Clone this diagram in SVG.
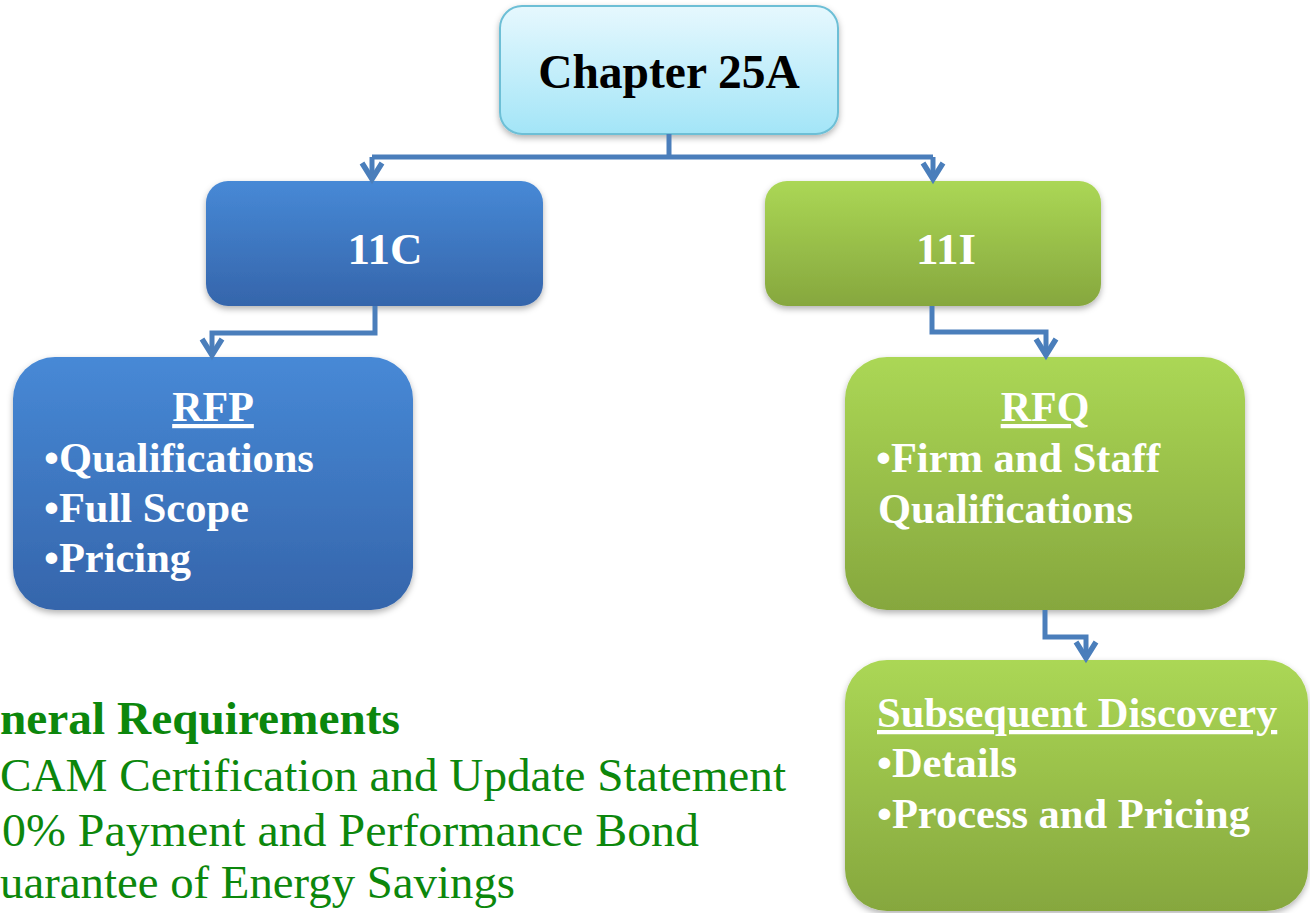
<svg xmlns="http://www.w3.org/2000/svg" width="1310" height="913" viewBox="0 0 1310 913">
<style>
.t{font-family:"Liberation Serif","Times New Roman",serif;font-weight:bold;}
.w{fill:#ffffff;}
.g{fill:#0c870c;font-family:"Liberation Serif","Times New Roman",serif;font-size:47px;}
.conn{fill:none;stroke:#4a7ebb;stroke-width:5;stroke-linejoin:miter;}
</style>
<defs>
<linearGradient id="gc" x1="0" y1="0" x2="0" y2="1"><stop offset="0" stop-color="#e6f8fe"/><stop offset="1" stop-color="#a3e5f7"/></linearGradient>
<linearGradient id="gb" x1="0" y1="0" x2="0" y2="1"><stop offset="0" stop-color="#4789d6"/><stop offset="1" stop-color="#3565ab"/></linearGradient>
<linearGradient id="gg" x1="0" y1="0" x2="0" y2="1"><stop offset="0" stop-color="#abd755"/><stop offset="1" stop-color="#86a73e"/></linearGradient>
<filter id="sh" x="-10%" y="-10%" width="120%" height="130%"><feDropShadow dx="0" dy="3" stdDeviation="3" flood-color="#000" flood-opacity="0.3"/></filter>
<marker id="ah" markerUnits="userSpaceOnUse" markerWidth="30" markerHeight="30" refX="0" refY="0" viewBox="-20 -15 30 30" orient="auto" overflow="visible">
<path d="M-16,-10 L0,0 L-16,10" fill="none" stroke="#4a7ebb" stroke-width="5.5"/>
</marker>
</defs>

<g id="n-chapter">
<rect x="500" y="6" width="338" height="128" rx="22" fill="url(#gc)" stroke="#6dbfd6" stroke-width="2" filter="url(#sh)"/>
<text class="t" x="669" y="88" font-size="47.5" text-anchor="middle" fill="#000">Chapter 25A</text>
</g>

<g id="n-11c">
<rect x="206" y="181" width="337" height="125" rx="22" fill="url(#gb)" filter="url(#sh)"/>
<text class="t w" x="385" y="264" font-size="45" text-anchor="middle">11C</text>
</g>

<g id="n-11i">
<rect x="765" y="181" width="336" height="125" rx="22" fill="url(#gg)" filter="url(#sh)"/>
<text class="t w" x="946" y="264" font-size="45" text-anchor="middle">11I</text>
</g>

<g id="n-rfp">
<rect x="13" y="357" width="400" height="253" rx="42" fill="url(#gb)" filter="url(#sh)"/>
<text class="t w" x="213" y="421" font-size="42" text-anchor="middle" text-decoration="underline">RFP</text>
<text class="t w" x="44" y="472" font-size="42.5">•Qualifications</text>
<text class="t w" x="44" y="522" font-size="42.5">•Full Scope</text>
<text class="t w" x="44" y="572" font-size="42.5">•Pricing</text>
</g>

<g id="n-rfq">
<rect x="845" y="357" width="400" height="253" rx="42" fill="url(#gg)" filter="url(#sh)"/>
<text class="t w" x="1045" y="421" font-size="42" text-anchor="middle" text-decoration="underline">RFQ</text>
<text class="t w" x="876" y="472" font-size="42.5">•Firm and Staff</text>
<text class="t w" x="878" y="523" font-size="42.5">Qualifications</text>
</g>

<g id="n-subsequent">
<rect x="845" y="660" width="463" height="251" rx="42" fill="url(#gg)" filter="url(#sh)"/>
<text class="t w" x="877" y="727" font-size="42.5" text-decoration="underline">Subsequent Discovery</text>
<text class="t w" x="877" y="777" font-size="42.5">•Details</text>
<text class="t w" x="877" y="828" font-size="42.5">•Process and Pricing</text>
</g>

<g id="connectors">
<path class="conn" d="M669,134 V157"/>
<path class="conn" d="M372,157 H933"/>
<path class="conn" d="M372,157 V179" marker-end="url(#ah)"/>
<path class="conn" d="M933,157 V179" marker-end="url(#ah)"/>
<path class="conn" d="M375,306 V333 H212 V355" marker-end="url(#ah)"/>
<path class="conn" d="M932,306 V332 H1046 V355" marker-end="url(#ah)"/>
<path class="conn" d="M1045,610 V637 H1086 V658" marker-end="url(#ah)"/>
</g>

<g id="general-requirements">
<text class="g" x="0" y="734" font-weight="bold" textLength="400" lengthAdjust="spacingAndGlyphs">neral Requirements</text>
<text class="g" x="0" y="791" textLength="786" lengthAdjust="spacingAndGlyphs">CAM Certification and Update Statement</text>
<text class="g" x="2" y="846" textLength="697" lengthAdjust="spacingAndGlyphs">0% Payment and Performance Bond</text>
<text class="g" x="0" y="898" textLength="515" lengthAdjust="spacingAndGlyphs">uarantee of Energy Savings</text>
</g>
</svg>
